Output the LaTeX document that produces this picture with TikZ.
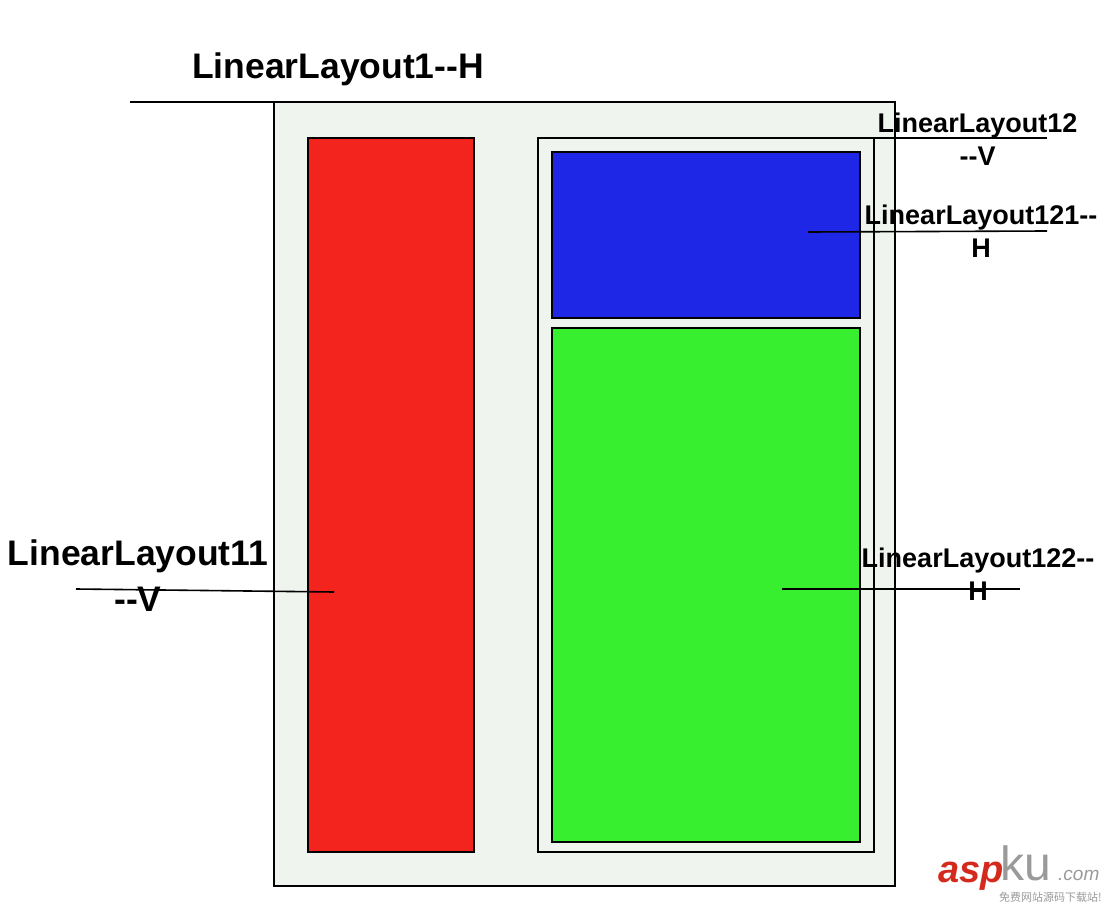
\documentclass[tikz,border=0pt]{standalone}
\usepackage{fontspec}
\setmainfont{Liberation Sans}
\newfontfamily\cjkfont{Noto Sans CJK SC}
\definecolor{panelbg}{HTML}{F0F4EF}
\definecolor{redbox}{HTML}{F3241E}
\definecolor{bluebox}{HTML}{1E27E6}
\definecolor{greenbox}{HTML}{37EE2F}
\definecolor{wmred}{HTML}{D42A1E}
\definecolor{wmgray}{HTML}{9A9A9A}
\tikzset{
  box/.style={draw=black, line width=1.8pt},
  lead/.style={draw=black, line width=1.6pt},
  biglabel/.style={inner sep=0pt, align=center, font=\fontsize{35.5}{46}\selectfont\bfseries},
  smalllabel/.style={inner sep=0pt, align=center, font=\fontsize{27}{33.5}\selectfont\bfseries},
}
\begin{document}
\begin{tikzpicture}[x=1pt,y=-1pt]
\path[use as bounding box, fill=white] (0,0) rectangle (1110,904);

% boxes
\path[box, fill=panelbg] (274,102) rectangle (895,886);
\coordinate (outerNW) at (274,102);
\path[box, fill=redbox] (308,138) rectangle (474,852);
\path[box, fill=panelbg] (538,138) rectangle (874,852);
\coordinate (innerNE) at (874,138);
\path[box, fill=bluebox] (552,152) rectangle (860,318);
\path[box, fill=greenbox] (552,328) rectangle (860,842);

% labels
\node[biglabel, anchor=base] (l1) at (338,79) {LinearLayout1-{}-H};
\node[smalllabel] (l12) at (977.5,139) {LinearLayout12\\-{}-V};
\node[smalllabel] (l121) at (981,231) {LinearLayout121-{}-\\H};
\node[smalllabel] (l122) at (978,574) {LinearLayout122-{}-\\H};
\node[biglabel] (l11) at (138,576) {LinearLayout11\\-{}-V};

% leader lines
\coordinate (a1) at (130,102);
\draw[lead] (a1) -- (outerNW);
\coordinate (a12) at (1047,138);
\draw[lead] (innerNE) -- (a12);
\coordinate (a121s) at (808,232);
\coordinate (a121e) at (1047,231);
\draw[lead] (a121s) -- (a121e);
\coordinate (a122s) at (782,589);
\coordinate (a122e) at (1020,589);
\draw[lead] (a122s) -- (a122e);
\coordinate (a11s) at (76,589);
\coordinate (a11e) at (334,592);
\draw[lead] (a11s) -- (a11e);

% watermark
\node[inner sep=0pt, anchor=base west, text=wmred, font=\fontsize{38}{40}\selectfont\bfseries\itshape] (wm1) at (938,882) {asp};
\node[inner sep=0pt, anchor=base west, text=wmgray, font=\fontsize{48}{50}\selectfont] (wm2) at (1000,880) {ku};
\node[inner sep=0pt, anchor=base west, text=wmgray, font=\fontsize{19}{21}\selectfont\itshape] (wm3) at (1058,880) {.com};
\node[inner sep=0pt, anchor=base west, text=wmgray, font=\fontsize{11}{12}\selectfont\cjkfont] (wm4) at (999,901) {免费网站源码下载站!};
\end{tikzpicture}
\end{document}
